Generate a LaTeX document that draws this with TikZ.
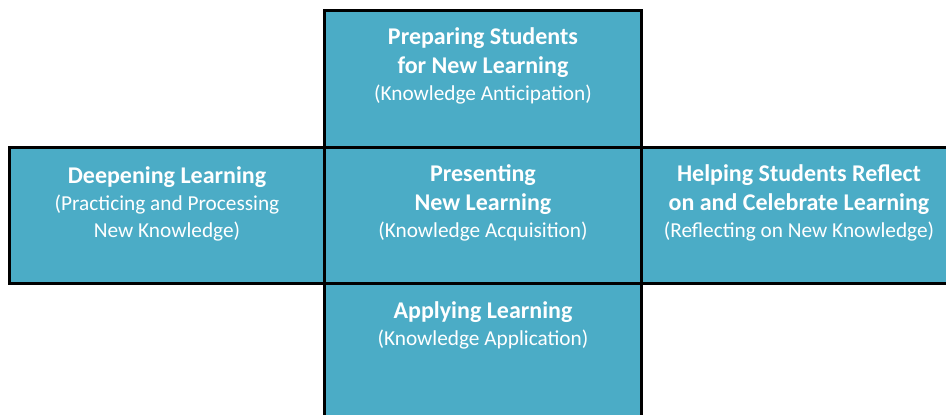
\documentclass[tikz,border=0pt]{standalone}
\usepackage{fontspec}
\setmainfont{Carlito}
\definecolor{cellblue}{HTML}{4BACC6}
\newcommand{\headfont}{\fontsize{24}{27}\selectfont\bfseries}
\newcommand{\notefont}{\fontsize{21.3}{27}\selectfont}

\begin{document}
\begin{tikzpicture}[x=1pt,y=-1pt,
  cell/.style={draw=black, line width=3pt, fill=cellblue, rectangle, inner sep=0pt},
  celltext/.style={text=white, align=center, anchor=base, inner sep=0pt,
    font=\fontsize{21.3}{27}\selectfont}]

\useasboundingbox (0,0) rectangle (946,415);
\clip (0,0) rectangle (946,415);

% the five cells of the cross
\node (top) at (483,79) [cell, minimum width=317pt, minimum height=137pt] {};
\node (left) at (166.75,215.25) [cell, minimum width=315.5pt, minimum height=135.5pt] {};
\node (mid) at (483,215.25) [cell, minimum width=317pt, minimum height=135.5pt] {};
\node (right) at (804.25,215.25) [cell, minimum width=325.5pt, minimum height=135.5pt] {};
\node (bottom) at (483,351.5) [cell, minimum width=317pt, minimum height=137pt] {};

% texts (anchored at the baseline of the last line)
\node (toptext) at (483,100.5) [celltext]
  {\headfont Preparing Students\\[2pt] \headfont for New Learning\\ \notefont (Knowledge Anticipation)};
\node (lefttext) at (167,237.5) [celltext]
  {\headfont Deepening Learning\\ \notefont (Practicing and Processing\\ \notefont New Knowledge)};
\node (midtext) at (483,237.5) [celltext]
  {\headfont Presenting\\[2pt] \headfont New Learning\\ \notefont (Knowledge Acquisition)};
\node (righttext) at (799,237.5) [celltext]
  {\headfont Helping Students Reflect\\[2pt] \headfont on and Celebrate Learning\\ \notefont (Reflecting on New Knowledge)};
\node (bottomtext) at (483,345.8) [celltext]
  {\headfont Applying Learning\\ \notefont (Knowledge Application)};

\end{tikzpicture}
\end{document}
